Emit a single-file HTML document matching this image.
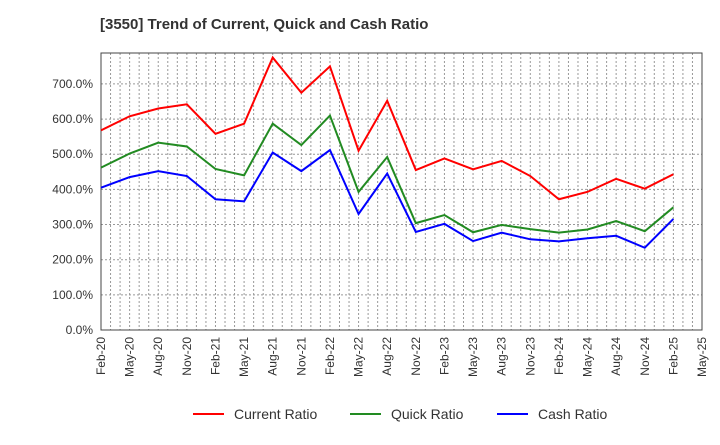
<!DOCTYPE html>
<html><head><meta charset="utf-8"><style>
body{margin:0;background:#fff;font-family:"Liberation Sans",sans-serif}
svg text{font-family:"Liberation Sans",sans-serif}
</style></head><body>
<svg width="720" height="440" xmlns="http://www.w3.org/2000/svg">
<text x="100" y="29" font-size="15" font-weight="bold" fill="#333">[3550]  Trend of Current, Quick and Cash Ratio</text>
<g id="grid"></g>
<g id="axes"></g>
<g id="series"></g>
<g id="legend"></g>
</svg>
<script>
const categories=["Feb-20","May-20","Aug-20","Nov-20","Feb-21","May-21","Aug-21","Nov-21","Feb-22","May-22","Aug-22","Nov-22","Feb-23","May-23","Aug-23","Nov-23","Feb-24","May-24","Aug-24","Nov-24","Feb-25"];
const tickLabels=["Feb-20","May-20","Aug-20","Nov-20","Feb-21","May-21","Aug-21","Nov-21","Feb-22","May-22","Aug-22","Nov-22","Feb-23","May-23","Aug-23","Nov-23","Feb-24","May-24","Aug-24","Nov-24","Feb-25","May-25"];
const currentRatio=[568,608,630,642,558,587,775,675,750,510,652,455,488,457,481,438,372,393,430,402,443];
const quickRatio=[462,502,533,522,458,440,587,526,610,393,492,304,327,278,299,287,277,286,310,281,349];
const cashRatio=[405,435,452,438,372,366,505,452,512,330,445,279,302,253,277,258,252,261,268,234,316];
const yTicks=[0,100,200,300,400,500,600,700];
const X0=101,X1=702,Y0=330,YT=53,MONTHS=63,YMAX=788;
const x=m=>X0+(X1-X0)*m/MONTHS;
const y=v=>Y0-(Y0-YT)*v/YMAX;
const NS="http://www.w3.org/2000/svg";
function mk(p,t,a){const e=document.createElementNS(NS,t);for(const k in a)e.setAttribute(k,a[k]);p.appendChild(e);return e;}
const grid=document.getElementById('grid'),axes=document.getElementById('axes'),series=document.getElementById('series'),legend=document.getElementById('legend');
for(let m=1;m<MONTHS;m++){const l=mk(grid,'line',{x1:x(m),x2:x(m),y1:YT,y2:Y0,stroke:'#999','stroke-width':1,'stroke-dasharray':'2,2'});

}
yTicks.forEach(v=>{if(v>0){const l=mk(grid,'line',{x1:X0,x2:X1,y1:y(v),y2:y(v),stroke:'#999','stroke-width':1,'stroke-dasharray':'2,2'});

}
const t=mk(axes,'text',{x:X0-8,y:y(v)+4,'text-anchor':'end','font-size':12,fill:'#333'});t.textContent=v.toFixed(1)+'%';

});
const fr=mk(axes,'rect',{x:X0,y:YT,width:X1-X0,height:Y0-YT,fill:'none',stroke:'#444','stroke-width':1});


tickLabels.forEach((lab,i)=>{const xx=x(i*3);const t=mk(axes,'text',{x:0,y:0,'text-anchor':'end','font-size':12,fill:'#333',transform:`translate(${xx+4},${Y0+7}) rotate(-90)`});t.textContent=lab;

});
const defs=[["Current Ratio",currentRatio,"#ff0000"],["Quick Ratio",quickRatio,"#228b22"],["Cash Ratio",cashRatio,"#0000ff"]];
defs.forEach(([name,vals,col],si)=>{const pts=vals.map((v,i)=>x(i*3)+','+y(v)).join(' ');
const p=mk(series,'polyline',{points:pts,fill:'none',stroke:col,'stroke-width':2});


const lx=[193,350,497][si];
const ll=mk(legend,'line',{x1:lx,x2:lx+31,y1:414,y2:414,stroke:col,'stroke-width':2});


const lt=mk(legend,'text',{x:lx+41,y:419,'font-size':14,fill:'#333'});lt.textContent=name;

});
</script>
</body></html>
